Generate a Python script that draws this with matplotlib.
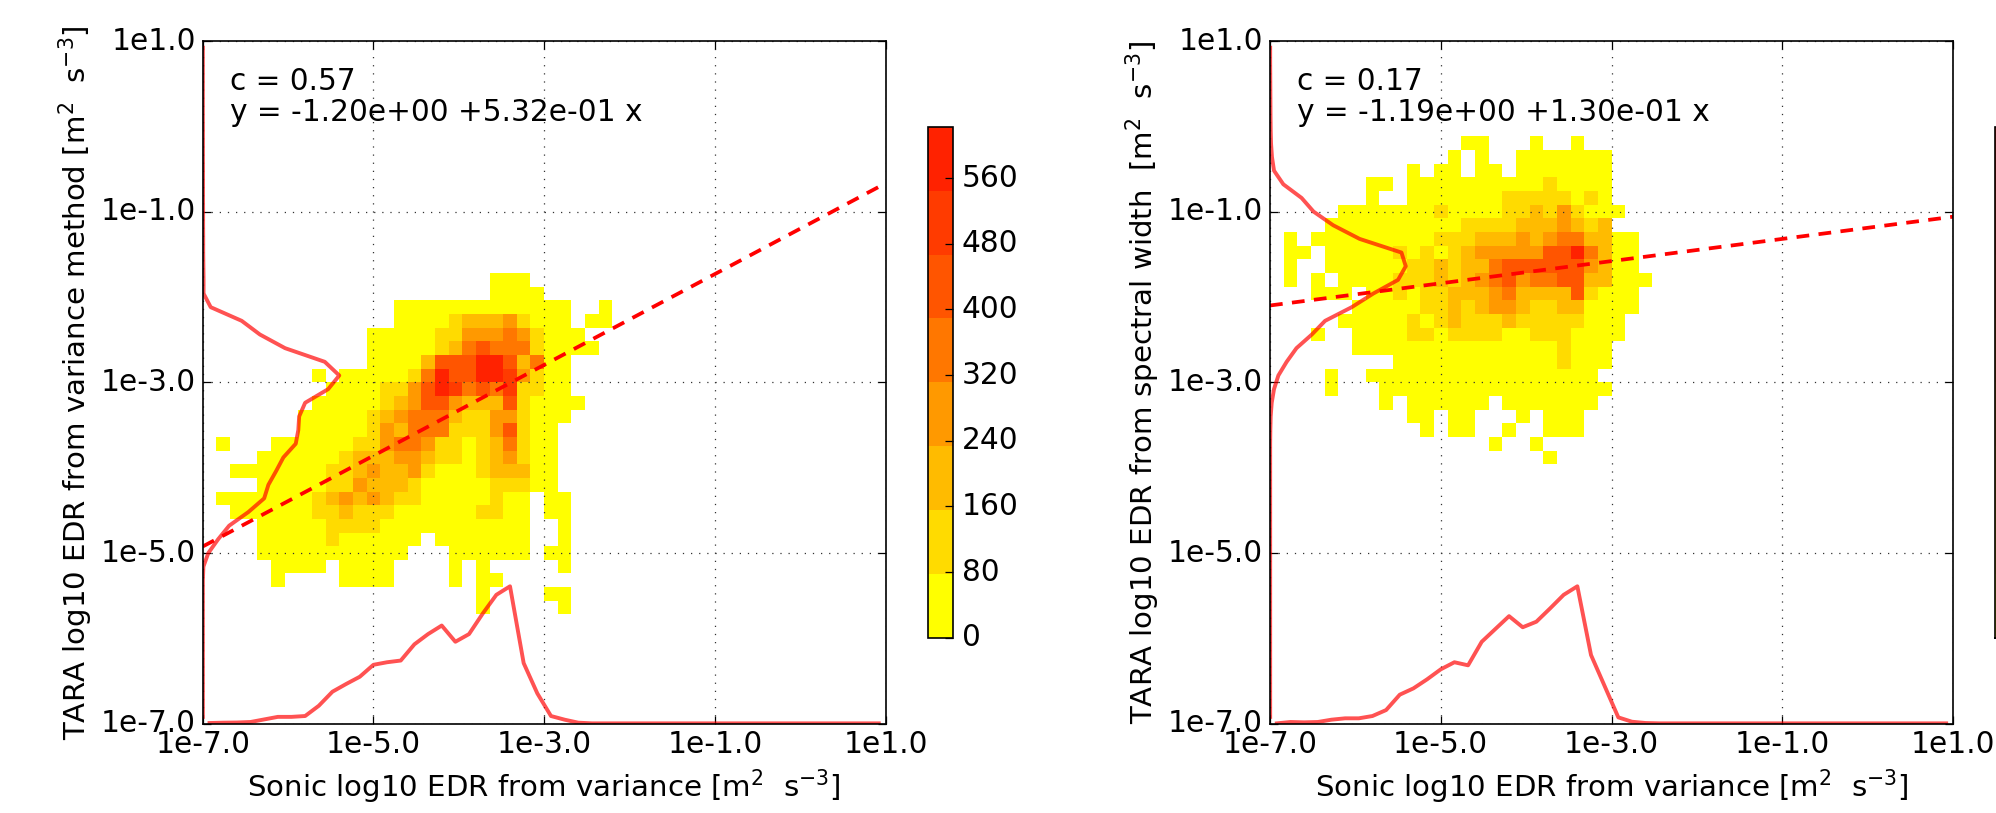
"""
Sonic vs TARA EDR 2d histograms with marginal curves and fit lines.
"""
import numpy as np
import matplotlib
matplotlib.use("Agg")  # Use non-interactive backend
import matplotlib.pyplot as plt
from matplotlib.colors import ListedColormap, Normalize
from matplotlib.transforms import ScaledTranslation

W, H = 1996, 813

N_BINS = 50
LOG_MIN, LOG_MAX = -7.0, 1.0
TICK_VALUES = [-7, -5, -3, -1, 1]
TICK_LABELS = ["1e-7.0", "1e-5.0", "1e-3.0", "1e-1.0", "1e1.0"]

BAND_WIDTH = 77.75  # colour bands of the histogram, in counts
BAND_COLORS = ["#ffff00", "#ffdb00", "#ffbb00", "#ff9900",
               "#ff7700", "#ff5500", "#ff3b00", "#ff2200"]
CBAR_TICKS = [0, 80, 160, 240, 320, 400, 480, 560]

XLABEL = r"Sonic log10 EDR from variance [m$^2$  s$^{-3}$]"
YLABEL_LEFT = r"TARA log10 EDR from variance method [m$^2$  s$^{-3}$]"
YLABEL_RIGHT = r"TARA log10 EDR from spectral width  [m$^2$  s$^{-3}$]"

CORR_LEFT, CORR_RIGHT = "c = 0.57", "c = 0.17"
FIT_TEXT_LEFT = "y = -1.20e+00 +5.32e-01 x"
FIT_TEXT_RIGHT = "y = -1.19e+00 +1.30e-01 x"
FIT_LEFT = (-1.20, 0.532)
FIT_RIGHT = (-1.19, 0.130)

# histogram band per cell: row -> (first column, bands), "." = empty
LEFT_CELLS = {
    32: (21, "000"),
    31: (21, "0000"),
    30: (14, "0000000000000..0"),
    29: (14, "00001222" + "31000.00"),
    28: (12, "0000011333" + "43100" + "0"),
    27: (12, "00000" + "12" + "454" + "44" + "1" + "0000"),
    26: (12, "0000" + "2" + "555" + "77" + "5" + "2" + "4" + "00"),
    25: (8, "0.00000" + "1" + "4" + "7" + "55" + "77" + "6" + "3" + "1" + "00"),
    24: (9, "0000" + "11" + "3" + "5" + "7" + "6" + "4" + "5" + "4" + "6" + "11" + "00"),
    23: (8, "00000" + "1" + "2" + "3" + "55" + "3222" + "5" + "1" + "0000"),
    22: (7, "00000" + "1" + "2" + "3" + "444" + "2" + "11" + "33" + "1" + "000"),
    21: (7, "00000" + "1" + "3" + "2" + "444" + "111" + "3" + "5" + "1" + "00"),
    20: (1, "0...000000" + "11" + "3" + "44" + "3" + "11" + "0" + "1" + "2" + "4" + "1" + "00"),
    19: (4, "000000" + "1" + "222" + "33" + "2" + "11" + "0" + "1" + "2" + "3" + "1" + "00"),
    18: (2, "0000000" + "11" + "2" + "3" + "22" + "3" + "1" + "000" + "1" + "222" + "00"),
    17: (4, "00000" + "11" + "3" + "222" + "1" + "00000" + "111" + "00"),
    16: (1, "0000000" + "1" + "2" + "3" + "2" + "3" + "2" + "11" + "00000" + "1" + "00" + "." + "00"),
    15: (2, "000000" + "11" + "2" + "111" + "000000" + "11" + "00" + "." + "00"),
    14: (4, "00000" + "1111" + "00000000000" + ".." + "0"),
    13: (4, "00000" + "1" + "000000" + "." + "0000000" + ".." + "0"),
    12: (4, "00000000000" + "..." + "000000" + "." + "00"),
    11: (5, "0000.0000" + "...." + "0.0" + "....." + "0"),
    10: (5, "0....0000" + "...." + "0.00"),
    9: (20, "0....00"),
    8: (20, "0.....0"),
}
RIGHT_CELLS = {
    42: (14, "00...0..0"),
    41: (13, "0.0..0000000"),
    40: (10, "0.00.00.0000000"),
    39: (7, "00.0000000000" + "1" + "0000"),
    38: (7, "0..0000000" + "11111" + "010"),
    37: (5, "0000000" + "1" + "0000" + "11" + "2" + "1" + "3" + "1" + "000"),
    36: (4, "0000000000" + "1111" + "222" + "3" + "2" + "1" + "2"),
    35: (1, "0.000000000" + "111" + "222" + "3" + "2" + "3" + "44" + "22" + "00"),
    34: (1, "00.00000" + "1" + "0" + "1" + "0" + "1" + "2" + "33333" + "55" + "7" + "4" + "2" + "00"),
    33: (1, "0..000000" + "11" + "2" + "1" + "22" + "4" + "55555" + "5" + "3" + "2" + "00"),
    32: (1, "0.0.0000" + "111" + "2" + "1" + "2" + "3" + "4" + "5" + "3" + "44" + "55" + "22" + "000"),
    31: (3, "000.00" + "1" + "0" + "11" + "222" + "3" + "4" + "2222" + "5" + "1" + "000"),
    30: (6, "00000" + "11" + "2" + "1" + "2" + "33" + "2" + "11" + "22" + "0000"),
    29: (5, "00000" + "1" + "0" + "1" + "2" + "111" + "2" + "11111" + "000"),
    28: (3, "0..0000" + "11" + "0" + "1111" + "00" + "111" + "0000"),
    27: (6, "000000000000000" + "1" + "000"),
    26: (9, "000000000000" + "1" + "000"),
    25: (4, "0..00000000000000000"),
    24: (4, "0...00000000000000000"),
    23: (8, "0.000000.0000000"),
    22: (10, "00.00...0.000"),
    21: (11, "0.00..0..000"),
    20: (16, "0..0"),
    19: (20, "0"),
}

# marginal curves, height above the axis in decades, one value per bin
LEFT_X_MARGINAL = [.008, .012, .014, .02, .05, .08, .08, .09, .21, .375,
                   .465, .55, .69, .72, .74, .93, 1.05, 1.15, .96, 1.05,
                   1.29, 1.51, 1.61, .71, .355, .09, .047, .012, .004, .004,
                   .004, .004, .004, .004, .004, .004, .004, .004, .004, .004,
                   .004, .004, .004, .004, .004, .004, .004, .004, .004, .004]
LEFT_Y_MARGINAL = [.002, .002, .002, .002, .002, .002, .002, .002, .002, .002,
                   .002, .008, .066, .18, .31, .535, .72, .77, .86, .945,
                   1.09, 1.12, 1.13, 1.2, 1.47, 1.6, 1.43, .965, .67, .457,
                   .094, .01, .01, .008, .006, .006, .005, .005, .004, .004,
                   .004, .003, .003, .003, .002, .002, .002, .002, .002, .002]
RIGHT_X_MARGINAL = [.004, .02, .016, .02, .047, .063, .063, .09, .16, .34,
                    .414, .52, .637, .72, .684, .96, 1.11, 1.26, 1.13, 1.195,
                    1.35, 1.51, 1.61, .805, .44, .074, .023, .008, .004, .004,
                    .004, .004, .004, .004, .004, .004, .004, .004, .004, .004,
                    .004, .004, .004, .004, .004, .004, .004, .004, .004, .004]
RIGHT_Y_MARGINAL = [.002, .002, .002, .002, .002, .002, .002, .002, .002, .002,
                    .002, .002, .002, .002, .002, .002, .002, .002, .002, .002,
                    .002, .004, .008, .02, .047, .098, .195, .31, .49, .645,
                    .957, 1.21, 1.5, 1.59, 1.54, 1.05, .74, .51, .37, .156,
                    .047, .023, .012, .008, .006, .005, .004, .003, .002, .002]


def px_axes(fig, x0, y0, x1, y1):
    # axes from pixel box, y measured from the top of the image
    return fig.add_axes([x0 / W, 1 - y1 / H, (x1 - x0) / W, (y1 - y0) / H])


def cells_to_counts(cells):
    grid = np.full((N_BINS, N_BINS), np.nan)
    for row, (first, bands) in cells.items():
        for i, ch in enumerate(bands):
            if ch != ".":
                grid[row, first + i] = (int(ch) + 0.5) * BAND_WIDTH
    return grid


def lift_tick_labels(fig, axis):
    # tick labels sit a little above their ticks in the original
    shift = ScaledTranslation(0, 2.0 / 72, fig.dpi_scale_trans)
    for label in axis.get_ticklabels():
        label.set_transform(label.get_transform() + shift)


def draw_panel(ax, cells, x_marg, y_marg, fit, corr, fit_text, ylabel):
    edges = np.linspace(LOG_MIN, LOG_MAX, N_BINS + 1)
    centers = 0.5 * (edges[:-1] + edges[1:])
    mesh = ax.pcolormesh(edges, edges, cells_to_counts(cells), cmap=cmap, norm=norm,
                         linewidth=0, rasterized=True)

    ax.plot(centers, LOG_MIN + np.array(x_marg), color="#ff0000", alpha=0.68, lw=2.8, zorder=4)
    ax.plot(LOG_MIN + np.array(y_marg), centers, color="#ff0000", alpha=0.68, lw=2.8, zorder=4)

    fit_x = np.array([LOG_MIN, LOG_MAX])
    ax.plot(fit_x, fit[0] + fit[1] * fit_x, color="#ff0000", lw=2.7,
            linestyle=(0, (3.4, 2.5)), zorder=5)

    ax.set_xlim(LOG_MIN, LOG_MAX)
    ax.set_ylim(LOG_MIN, LOG_MAX)
    ax.set_xticks(TICK_VALUES)
    ax.set_xticklabels(TICK_LABELS)
    ax.set_yticks(TICK_VALUES)
    ax.set_yticklabels(TICK_LABELS)
    ax.tick_params(direction="in", top=True, right=True, length=6, width=0.9, pad=5)
    ax.tick_params(axis="x", pad=4.5)
    lift_tick_labels(ax.figure, ax.yaxis)
    ax.set_axisbelow(False)
    ax.grid(True, color="#333333", lw=0.9, linestyle=(0, (1, 5.5)))
    for spine in ax.spines.values():
        spine.set_linewidth(1.2)
        spine.set_zorder(6)

    ax.text(-6.68, 0.42, corr, va="baseline")
    ax.text(-6.68, 0.06, fit_text, va="baseline")
    ax.set_xlabel(XLABEL, labelpad=6, fontsize=21.1)
    ax.set_ylabel(ylabel, labelpad=4, fontsize=21.1)
    return mesh


plt.rcParams["font.family"] = "DejaVu Sans"
plt.rcParams["font.size"] = 21.3
plt.rcParams["mathtext.default"] = "regular"

cmap = ListedColormap(BAND_COLORS)
norm = Normalize(0, BAND_WIDTH * len(BAND_COLORS))

fig = plt.figure(figsize=(W / 100, H / 100), dpi=100)

ax1 = px_axes(fig, 202.7, 40.9, 885.6, 723.7)
ax2 = px_axes(fig, 1270, 40.9, 1953, 723.7)
mesh1 = draw_panel(ax1, LEFT_CELLS, LEFT_X_MARGINAL, LEFT_Y_MARGINAL, FIT_LEFT,
                   CORR_LEFT, FIT_TEXT_LEFT, YLABEL_LEFT)
mesh2 = draw_panel(ax2, RIGHT_CELLS, RIGHT_X_MARGINAL, RIGHT_Y_MARGINAL, FIT_RIGHT,
                   CORR_RIGHT, FIT_TEXT_RIGHT, YLABEL_RIGHT)

cax1 = px_axes(fig, 928.3, 127, 953.3, 637.5)
cb1 = fig.colorbar(mesh1, cax=cax1, ticks=CBAR_TICKS)
cb1.ax.tick_params(direction="in", length=6, width=0.9, pad=6)
cb1.outline.set_linewidth(1.2)
lift_tick_labels(fig, cb1.ax.yaxis)

# second colourbar runs off the right edge of the image, only its border shows
cax2 = px_axes(fig, 1995, 127, 2020, 637.5)
cb2 = fig.colorbar(mesh2, cax=cax2, ticks=[])
cb2.outline.set_linewidth(1.2)

fig.savefig("out.png", dpi=100)
plt.close(fig)
print("[OK] Saved plot -> out.png")
